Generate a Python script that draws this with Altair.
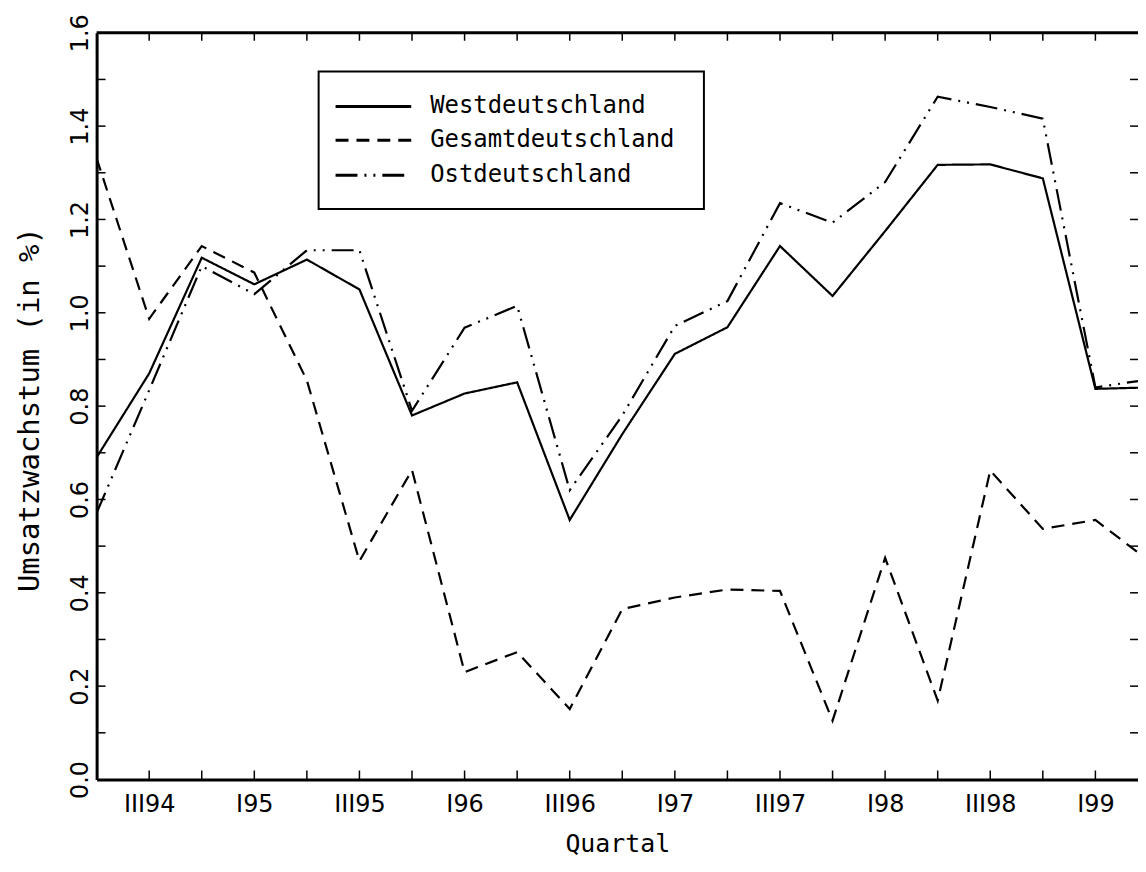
import altair as alt
import pandas as pd

# ---- data ----
quarters = ["II94", "III94", "IV94", "I95", "II95", "III95", "IV95", "I96", "II96",
            "III96", "IV96", "I97", "II97", "III97", "IV97", "I98", "II98", "III98",
            "IV98", "I99", "II99"]
west = [0.69, 0.87, 1.118, 1.061, 1.114, 1.05, 0.78, 0.827, 0.851, 0.556, 0.74,
        0.912, 0.969, 1.143, 1.036, 1.175, 1.317, 1.318, 1.288, 0.837, 0.84]
gesamt = [1.331, 0.987, 1.143, 1.086, 0.855, 0.468, 0.663, 0.23, 0.273, 0.151, 0.365,
          0.39, 0.407, 0.404, 0.126, 0.475, 0.169, 0.662, 0.537, 0.556, 0.47]
ost = [0.571, 0.834, 1.10, 1.04, 1.134, 1.134, 0.79, 0.968, 1.015, 0.62, 0.78,
       0.972, 1.025, 1.235, 1.193, 1.28, 1.463, 1.441, 1.416, 0.84, 0.857]
series_names = ["Westdeutschland", "Gesamtdeutschland", "Ostdeutschland"]
x_label_idx = [1, 3, 5, 7, 9, 11, 13, 15, 17, 19]
y_tick_values = [0.0, 0.2, 0.4, 0.6, 0.8, 1.0, 1.2, 1.4, 1.6]
y_minor = [0.1, 0.2, 0.3, 0.4, 0.5, 0.6, 0.7, 0.8, 0.9, 1.0, 1.1, 1.2, 1.3, 1.4, 1.5]
x_minor = list(range(1, 20))

rows = []
for i, q in enumerate(quarters):
    for name, vals in zip(series_names, [west, gesamt, ost]):
        rows.append({"idx": i, "quarter": q, "series": name, "value": vals[i]})
df = pd.DataFrame(rows)

# ---- layout ----
W, H = 1046, 750
QW = 52.8
xmax = W / QW
FONT = "DejaVu Sans"
MONO = "DejaVu Sans Mono"
dashes = [[1, 0], [13, 8], [22, 7, 2, 7, 2, 7]]

xscale = alt.Scale(domain=[0, xmax], nice=False, zero=False)
yscale = alt.Scale(domain=[0, 1.6], nice=False, zero=False)

label_arr = "[" + ",".join("'%s'" % q for q in quarters) + "]"
xaxis = alt.Axis(values=x_label_idx, labelExpr=label_arr + "[datum.value]",
                 ticks=False, grid=False, domain=True, domainColor="black",
                 domainWidth=3, labelFont=FONT, labelFontSize=24, labelColor="black",
                 labelPadding=13, labelFlush=False, labelOverlap=False,
                 title="Quartal", titleFont=MONO, titleFontSize=25,
                 titleFontWeight="normal", titleColor="black",
                 titleBaseline="alphabetic", titleY=72)
yaxis = alt.Axis(values=y_tick_values, format=".1f", labelAngle=270,
                 labelAlign="center", labelBaseline="alphabetic", labelPadding=9,
                 ticks=False, grid=False, domain=True, domainColor="black",
                 domainWidth=3, labelFont=FONT, labelFontSize=24, labelColor="black",
                 labelFlush=False, labelOverlap=False,
                 title="Umsatzwachstum (in %)", titleFont=MONO, titleFontSize=29,
                 titleFontWeight="normal", titleColor="black", titleAngle=270,
                 titleBaseline="middle", titleX=-67, titleY=H / 2 + 3)

X = alt.X("idx:Q", scale=xscale, axis=xaxis)
Y = alt.Y("value:Q", scale=yscale, axis=yaxis)

lines = alt.Chart(df).mark_line(clip=True, strokeWidth=2.2, color="black").encode(
    x=X, y=Y,
    strokeDash=alt.StrokeDash("series:N",
                              scale=alt.Scale(domain=series_names, range=dashes),
                              legend=None),
    detail="series:N",
)

xt = pd.DataFrame({"idx": x_minor})
yt = pd.DataFrame({"value": y_minor})
top_ticks = alt.Chart(xt).mark_rule(color="black", strokeWidth=1.5).encode(
    x=X, y=alt.value(0), y2=alt.value(8))
bottom_ticks = alt.Chart(xt).mark_rule(color="black", strokeWidth=1.5).encode(
    x=X, y=alt.value(H), y2=alt.value(H - 9))
left_ticks = alt.Chart(yt).mark_rule(color="black", strokeWidth=1.5).encode(
    y=Y, x=alt.value(0), x2=alt.value(9))
right_ticks = alt.Chart(yt).mark_rule(color="black", strokeWidth=1.5).encode(
    y=Y, x=alt.value(W), x2=alt.value(W - 8))
top_border = alt.Chart(pd.DataFrame({"a": [0]})).mark_rule(
    color="black", strokeWidth=3).encode(x=alt.value(0), x2=alt.value(W + 3), y=alt.value(0))

# ---- legend (drawn inside the plot) ----
one = pd.DataFrame({"a": [0]})
legend_layers = [
    alt.Chart(one).mark_rect(fill="white", stroke="black", strokeWidth=2).encode(
        x=alt.value(223), x2=alt.value(610), y=alt.value(39), y2=alt.value(177))
]
row_y = [74, 108, 143]
for name, dash, ry in zip(series_names, dashes, row_y):
    legend_layers.append(
        alt.Chart(one).mark_rule(color="black", strokeWidth=3, strokeDash=dash).encode(
            x=alt.value(240), x2=alt.value(316), y=alt.value(ry)))
    legend_layers.append(
        alt.Chart(one).mark_text(align="left", baseline="middle", font=MONO,
                                 fontSize=24, color="black").encode(
            x=alt.value(335), y=alt.value(ry), text=alt.value(name)))

chart = alt.layer(
    lines, top_ticks, bottom_ticks, left_ticks, right_ticks, top_border, *legend_layers
).properties(
    width=W, height=H,
    autosize=alt.AutoSizeParams(type="none"),
    padding={"left": 89, "top": 23, "right": 0, "bottom": 80},
    background="white",
).configure_view(stroke=None)

chart.save("out.html", embed_options={"renderer": "svg", "actions": False})
